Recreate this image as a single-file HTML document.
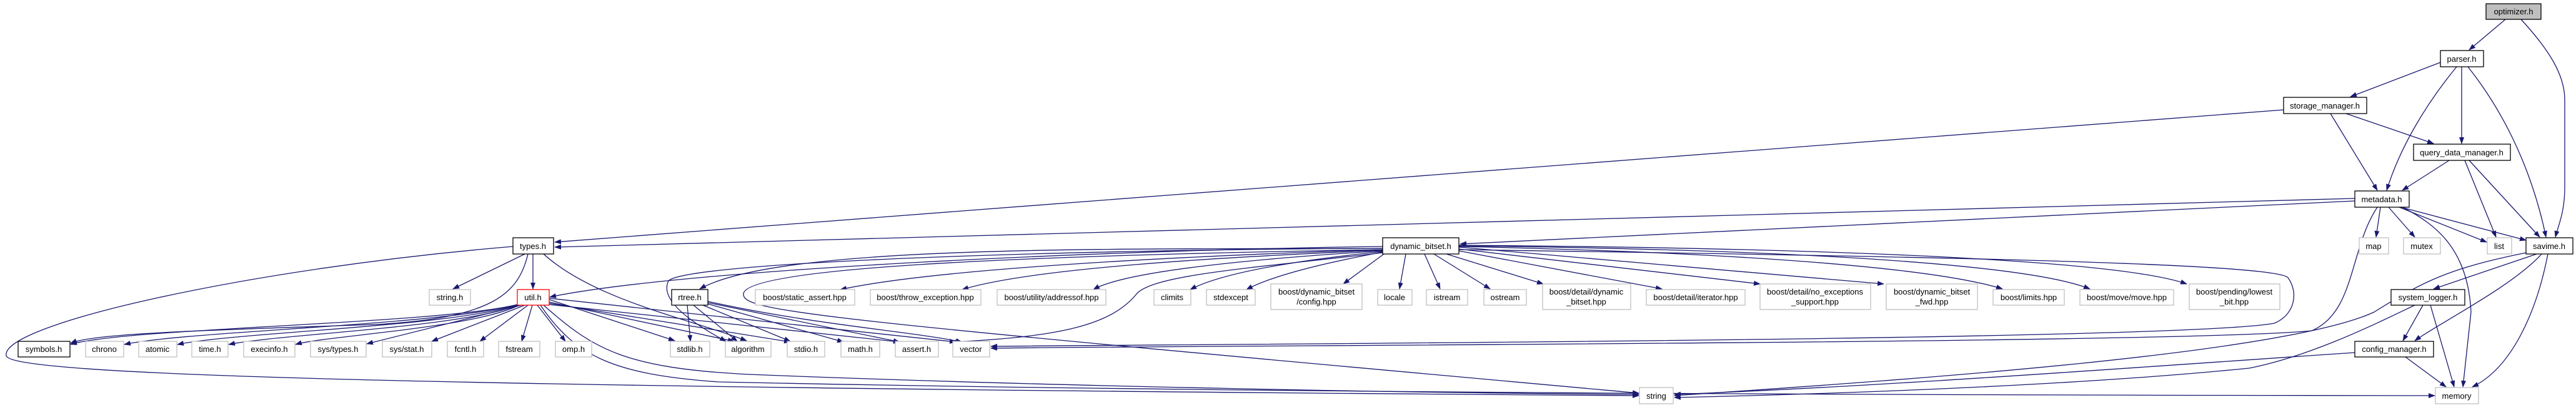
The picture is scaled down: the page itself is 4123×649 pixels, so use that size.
<!DOCTYPE html>
<html><head><meta charset="utf-8"><style>
html,body{margin:0;padding:0;background:#fff;}
svg{display:block;}
text{font-family:"Liberation Sans",sans-serif;font-size:13px;fill:#000;text-anchor:middle;}
.e{fill:none;stroke:#191970;stroke-width:1.3;marker-end:url(#a);}
.d{fill:#fff;stroke:#000;stroke-width:1.3;}
.g{fill:#fff;stroke:#bfbfbf;stroke-width:1.3;}
</style></head><body>
<svg width="4123" height="649" viewBox="0 0 4123 649" xmlns="http://www.w3.org/2000/svg">
<defs><marker id="a" markerWidth="11" markerHeight="8" refX="10" refY="4" orient="auto" markerUnits="userSpaceOnUse"><path d="M0,0 L11,4 L0,8 z" fill="#191970"/></marker></defs>
<path class="e" d="M4010,31 L3952,80"/>
<path class="e" d="M4035,31 C4080,80 4105,120 4105,160 L4105,300 C4105,340 4095,360 4090,380"/>
<path class="e" d="M3906,100 L3762,155"/>
<path class="e" d="M3932,107 C3880,170 3840,240 3820,305"/>
<path class="e" d="M3940,107 L3940,230"/>
<path class="e" d="M3950,107 C4000,170 4050,260 4075,380"/>
<path class="e" d="M3730,182 L3805,305"/>
<path class="e" d="M3755,182 L3895,230"/>
<path class="e" d="M3655,176 L888,388"/>
<path class="e" d="M3920,257 L3845,305"/>
<path class="e" d="M3945,257 L3995,380"/>
<path class="e" d="M3952,257 L4065,380"/>
<path class="e" d="M3810,332 L3803,380"/>
<path class="e" d="M3823,332 L3865,380"/>
<path class="e" d="M3840,332 L3980,388"/>
<path class="e" d="M3843,332 L4043,385"/>
<path class="e" d="M3845,332 C3900,360 3950,400 3955,500 L3942,620"/>
<path class="e" d="M3769,318 L888,396"/>
<path class="e" d="M3769,322 L2337,391"/>
<path class="e" d="M3805,332 C3760,400 3770,500 3700,530 C3500,550 2000,553 1586,558"/>
<path class="e" d="M2335,400 C3000,410 3640,420 3662,445 C3680,470 3672,505 3640,518 C3500,545 2000,551 1586,555"/>
<path class="e" d="M4043,405 C3920,430 3880,450 3800,500 C3650,570 3000,612 2680,634"/>
<path class="e" d="M4060,407 L3895,463"/>
<path class="e" d="M4068,407 C4020,460 3900,520 3865,546"/>
<path class="e" d="M4078,407 C4060,500 4020,590 3957,620"/>
<path class="e" d="M3878,489 L3846,546"/>
<path class="e" d="M3890,489 L3928,620"/>
<path class="e" d="M3865,489 C3800,520 3700,570 3600,590 C3300,620 2900,632 2680,637"/>
<path class="e" d="M3850,572 L3915,620"/>
<path class="e" d="M3769,565 C3400,590 3000,620 2680,632"/>
<path class="e" d="M840,407 L725,463"/>
<path class="e" d="M853,407 L853,463"/>
<path class="e" d="M845,407 C830,470 790,510 600,520 C300,530 150,535 113,550"/>
<path class="e" d="M870,407 C950,480 1100,510 1195,546"/>
<path class="e" d="M821,395 C400,430 0,520 10,570 C15,600 600,620 2623,634"/>
<path class="e" d="M828,488 C700,520 200,525 113,552"/>
<path class="e" d="M830,488 C700,522 300,530 199,552"/>
<path class="e" d="M831,488 C720,524 380,532 284,552"/>
<path class="e" d="M832,488 C740,525 450,535 366,552"/>
<path class="e" d="M833,488 C760,526 520,538 473,552"/>
<path class="e" d="M835,489 L587,551"/>
<path class="e" d="M840,489 L691,547"/>
<path class="e" d="M845,489 L768,547"/>
<path class="e" d="M852,489 L835,547"/>
<path class="e" d="M860,489 L905,547"/>
<path class="e" d="M879,480 L1080,546"/>
<path class="e" d="M879,484 L1175,547"/>
<path class="e" d="M879,486 L1265,548"/>
<path class="e" d="M879,488 L1440,548"/>
<path class="e" d="M879,478 L1530,548"/>
<path class="e" d="M870,489 C950,560 1000,590 1200,600 C1700,620 2300,630 2623,632"/>
<path class="e" d="M865,489 C920,570 980,600 1150,612 C2000,630 3000,633 3897,634"/>
<path class="e" d="M2213,395 C1800,400 1100,430 880,476"/>
<path class="e" d="M2213,398 C1800,400 1250,390 1120,463"/>
<path class="e" d="M2213,400 C1900,410 1500,430 1345,464"/>
<path class="e" d="M2213,401 C1950,412 1650,430 1540,464"/>
<path class="e" d="M2213,402 C2000,415 1800,435 1750,464"/>
<path class="e" d="M2213,403 C2050,420 1950,440 1905,464"/>
<path class="e" d="M2213,404 C2100,425 2030,445 1995,464"/>
<path class="e" d="M2215,407 L2150,455"/>
<path class="e" d="M2250,407 L2240,463"/>
<path class="e" d="M2280,407 L2305,463"/>
<path class="e" d="M2295,407 L2385,463"/>
<path class="e" d="M2315,407 L2470,455"/>
<path class="e" d="M2335,402 L2660,463"/>
<path class="e" d="M2335,399 L2817,455"/>
<path class="e" d="M2335,396 L3015,455"/>
<path class="e" d="M2335,395 C2800,405 3100,430 3205,463"/>
<path class="e" d="M2335,394 C2900,400 3250,425 3345,463"/>
<path class="e" d="M2335,393 C3000,398 3400,420 3500,455"/>
<path class="e" d="M2213,405 C2000,430 1850,440 1820,470 C1780,520 1700,540 1522,548"/>
<path class="e" d="M2213,398 C1700,400 1100,420 1070,450 C1050,490 1150,540 1162,547"/>
<path class="e" d="M2213,400 C1600,410 1200,430 1190,470 C1185,500 1300,510 2623,630"/>
<path class="e" d="M1100,489 L1105,547"/>
<path class="e" d="M1110,489 L1180,547"/>
<path class="e" d="M1125,489 L1265,547"/>
<path class="e" d="M1133,487 L1350,548"/>
<path class="e" d="M1133,485 L1440,548"/>
<path class="e" d="M1133,483 C1300,520 1450,530 1540,548"/>
<rect x="3979" y="6" width="88" height="25" fill="#bfbfbf" stroke="#000" stroke-width="1.3"/><text x="4023" y="23">optimizer.h</text>
<rect class="d" x="3906" y="81" width="69" height="26"/><text x="3940" y="99">parser.h</text>
<rect class="d" x="3655" y="156" width="133" height="26"/><text x="3721" y="174">storage_manager.h</text>
<rect class="d" x="3863" y="231" width="155" height="26"/><text x="3940" y="249">query_data_manager.h</text>
<rect class="d" x="3769" y="306" width="87" height="26"/><text x="3812" y="324">metadata.h</text>
<rect class="d" x="821" y="381" width="65" height="26"/><text x="853" y="399">types.h</text>
<rect class="d" x="2213" y="381" width="122" height="26"/><text x="2274" y="399">dynamic_bitset.h</text>
<rect class="g" x="3776" y="381" width="47" height="26"/><text x="3799" y="399">map</text>
<rect class="g" x="3847" y="381" width="59" height="26"/><text x="3876" y="399">mutex</text>
<rect class="g" x="3981" y="381" width="39" height="26"/><text x="4000" y="399">list</text>
<rect class="d" x="4043" y="381" width="75" height="26"/><text x="4080" y="399">savime.h</text>
<rect class="g" x="687" y="464" width="66" height="25"/><text x="720" y="481">string.h</text>
<rect x="828" y="464" width="51" height="25" fill="#fff" stroke="#f00" stroke-width="1.3"/><text x="853" y="481">util.h</text>
<rect class="d" x="1075" y="464" width="58" height="25"/><text x="1104" y="481">rtree.h</text>
<rect class="g" x="1209" y="464" width="159" height="25"/><text x="1288" y="481">boost/static_assert.hpp</text>
<rect class="g" x="1393" y="464" width="177" height="25"/><text x="1481" y="481">boost/throw_exception.hpp</text>
<rect class="g" x="1596" y="464" width="174" height="25"/><text x="1683" y="481">boost/utility/addressof.hpp</text>
<rect class="g" x="1847" y="464" width="59" height="25"/><text x="1876" y="481">climits</text>
<rect class="g" x="1931" y="464" width="78" height="25"/><text x="1970" y="481">stdexcept</text>
<rect class="g" x="2034" y="455" width="146" height="41"/><text x="2107" y="472">boost/dynamic_bitset</text><text x="2107" y="488">/config.hpp</text>
<rect class="g" x="2205" y="464" width="55" height="25"/><text x="2232" y="481">locale</text>
<rect class="g" x="2283" y="464" width="66" height="25"/><text x="2316" y="481">istream</text>
<rect class="g" x="2375" y="464" width="68" height="25"/><text x="2409" y="481">ostream</text>
<rect class="g" x="2469" y="455" width="141" height="41"/><text x="2539" y="472">boost/detail/dynamic</text><text x="2539" y="488">_bitset.hpp</text>
<rect class="g" x="2635" y="464" width="158" height="25"/><text x="2714" y="481">boost/detail/iterator.hpp</text>
<rect class="g" x="2817" y="455" width="177" height="41"/><text x="2905" y="472">boost/detail/no_exceptions</text><text x="2905" y="488">_support.hpp</text>
<rect class="g" x="3019" y="455" width="146" height="41"/><text x="3092" y="472">boost/dynamic_bitset</text><text x="3092" y="488">_fwd.hpp</text>
<rect class="g" x="3190" y="464" width="114" height="25"/><text x="3247" y="481">boost/limits.hpp</text>
<rect class="g" x="3329" y="464" width="150" height="25"/><text x="3404" y="481">boost/move/move.hpp</text>
<rect class="g" x="3504" y="455" width="145" height="41"/><text x="3576" y="472">boost/pending/lowest</text><text x="3576" y="488">_bit.hpp</text>
<rect class="d" x="3827" y="464" width="118" height="25"/><text x="3886" y="481">system_logger.h</text>
<rect class="d" x="29" y="547" width="83" height="25"/><text x="70" y="564">symbols.h</text>
<rect class="g" x="137" y="547" width="61" height="25"/><text x="167" y="564">chrono</text>
<rect class="g" x="222" y="547" width="61" height="25"/><text x="252" y="564">atomic</text>
<rect class="g" x="307" y="547" width="58" height="25"/><text x="336" y="564">time.h</text>
<rect class="g" x="390" y="547" width="82" height="25"/><text x="431" y="564">execinfo.h</text>
<rect class="g" x="497" y="547" width="89" height="25"/><text x="541" y="564">sys/types.h</text>
<rect class="g" x="612" y="547" width="79" height="25"/><text x="651" y="564">sys/stat.h</text>
<rect class="g" x="716" y="547" width="58" height="25"/><text x="745" y="564">fcntl.h</text>
<rect class="g" x="798" y="547" width="66" height="25"/><text x="831" y="564">fstream</text>
<rect class="g" x="889" y="547" width="58" height="25"/><text x="918" y="564">omp.h</text>
<rect class="g" x="1073" y="547" width="63" height="25"/><text x="1104" y="564">stdlib.h</text>
<rect class="g" x="1161" y="547" width="73" height="25"/><text x="1197" y="564">algorithm</text>
<rect class="g" x="1260" y="547" width="60" height="25"/><text x="1290" y="564">stdio.h</text>
<rect class="g" x="1346" y="547" width="62" height="25"/><text x="1377" y="564">math.h</text>
<rect class="g" x="1433" y="547" width="69" height="25"/><text x="1467" y="564">assert.h</text>
<rect class="g" x="1525" y="547" width="59" height="25"/><text x="1554" y="564">vector</text>
<rect class="d" x="3769" y="547" width="126" height="25"/><text x="3832" y="564">config_manager.h</text>
<rect class="g" x="2624" y="621" width="54" height="26"/><text x="2651" y="639">string</text>
<rect class="g" x="3898" y="621" width="69" height="26"/><text x="3932" y="639">memory</text>
</svg>
</body></html>
